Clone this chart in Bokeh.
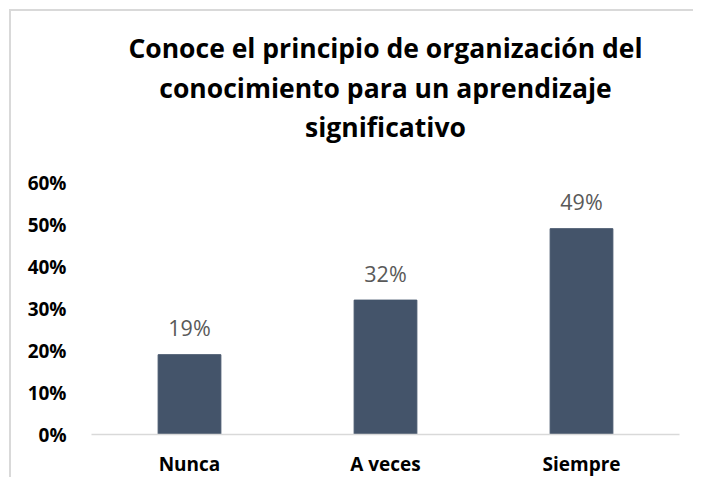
from bokeh.plotting import figure
from bokeh.models import (FactorRange, Range1d, FixedTicker, NumeralTickFormatter, Title,
                          ColumnDataSource)
from bokeh.core.properties import value
from bokeh.embed import file_html
from bokeh.resources import INLINE

categories = ["Nunca", "A veces", "Siempre"]
shares = [0.19, 0.32, 0.49]
y_ticks = [0.0, 0.1, 0.2, 0.3, 0.4, 0.5, 0.6]
title_lines = ["Conoce el principio de organización del",
               "conocimiento para un aprendizaje",
               "significativo"]

labels = [f"{round(v * 100)}%" for v in shares]
src = ColumnDataSource(dict(cat=categories, val=shares, lab=labels))

FONT = "Open Sans"
p = figure(x_range=FactorRange(*categories, range_padding=0),
           y_range=Range1d(0, 0.6),
           width=684, height=468,
           output_backend="svg", toolbar_location=None, tools="",
           min_border_left=80, min_border_right=16,
           min_border_bottom=43, min_border_top=171,
           styles={"border-left": "2px solid #d9d9d9", "border-top": "2px solid #d9d9d9",
                   "margin-left": "9px", "margin-top": "9px"})
p.outline_line_color = None
p.background_fill_color = "white"
p.border_fill_color = "white"
p.xgrid.visible = False
p.ygrid.visible = False

p.vbar(x="cat", top="val", width=0.32, source=src, color="#44546A")
p.text(x="cat", y="val", text="lab", source=src, y_offset=-27,
       text_align="center", text_baseline="alphabetic",
       text_font=value(FONT), text_font_size="21.5px", text_color="#595959")

# title: p.title is the outermost line; added titles stack outward from the frame
p.title.text = title_lines[0]
p.title.align = "center"
p.title.text_font = FONT
p.title.text_font_size = "26.5px"
p.title.text_font_style = "bold"
p.title.text_color = "black"
p.title.standoff = 2
for line, so in [(" ", 0), (title_lines[2], 0), (title_lines[1], 2)]:
    t = Title(text=line, align="center", text_font=FONT, text_font_size="26.5px",
              text_font_style="bold", text_color="black", standoff=so)
    p.add_layout(t, "above")

p.yaxis.ticker = FixedTicker(ticks=y_ticks)
p.yaxis.formatter = NumeralTickFormatter(format="0%")
p.yaxis.axis_line_color = None
p.yaxis.major_tick_line_color = None
p.yaxis.minor_tick_line_color = None
p.yaxis.major_label_standoff = 19
p.yaxis.major_label_text_font = FONT
p.yaxis.major_label_text_font_size = "19px"
p.yaxis.major_label_text_font_style = "bold"
p.yaxis.major_label_text_color = "black"

p.xaxis.axis_line_color = "#d9d9d9"
p.xaxis.axis_line_width = 1.5
p.xaxis.major_tick_line_color = None
p.xaxis.minor_tick_line_color = None
p.xaxis.major_label_standoff = 10
p.xaxis.major_label_text_font = FONT
p.xaxis.major_label_text_font_size = "19px"
p.xaxis.major_label_text_font_style = "bold"
p.xaxis.major_label_text_color = "black"

open("out.html", "w").write(file_html(p, INLINE))
